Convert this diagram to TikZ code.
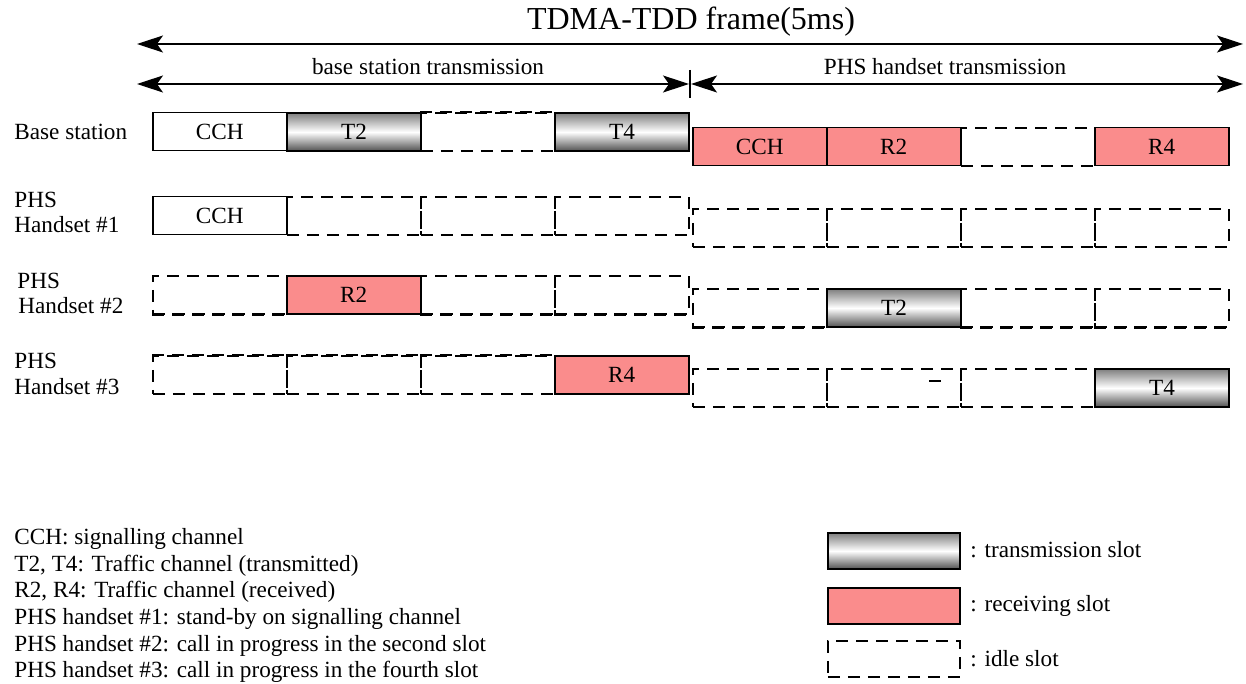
\documentclass[tikz,border=0pt]{standalone}
\usepackage{fontspec}
\setmainfont{Liberation Serif}
\newfontfamily\tms{Liberation Serif}
\usetikzlibrary{arrows.meta}
\definecolor{rxpink}{RGB}{250,140,140}
\begin{document}
\begin{tikzpicture}[x=0.5pt,y=-0.5pt,
  txt/.style={font=\tms\fontsize{11.6}{13}\selectfont},
  slot/.style={txt, minimum width=67pt, minimum height=19pt, inner sep=0pt, anchor=north west},
  solidslot/.style={slot, draw, line width=0.75pt},
  cchslot/.style={solidslot, fill=white},
  txslot/.style={solidslot, line width=1pt, top color=black!50, bottom color=black!68, middle color=white},
  rxslot/.style={solidslot, fill=rxpink},
  idleslot/.style={slot, draw, line width=0.85pt, dash pattern=on 6pt off 4pt},
  heavy/.style={line width=1.4pt, dash pattern=on 6pt off 4pt},
  lbl/.style={txt, anchor=base west, inner sep=0pt},
  span/.style={line width=0.6pt, {Stealth[length=13pt,width=8.5pt,inset=3pt]}-{Stealth[length=13pt,width=8.5pt,inset=3pt]}},
]
\useasboundingbox (0,0) rectangle (1246,684);

% frame arrows
\node[font=\tms\fontsize{16}{19}\selectfont] (title) at (691,22) {TDMA-TDD frame(5ms)};
\coordinate (fl) at (137,44);
\coordinate (fr) at (1243,44);
\draw[span] (fl) -- (fr);
\node[txt] (bst) at (428,67) {base station transmission};
\node[txt] (pht) at (945,67) {PHS handset transmission};
\coordinate (bl) at (137,84);
\coordinate (bm1) at (689,84);
\coordinate (bm2) at (691,84);
\coordinate (br) at (1243,84);
\draw[span] (bl) -- (bm1);
\draw[span] (bm2) -- (br);
\coordinate (tt) at (690,70);
\coordinate (tb) at (690,98);
\draw[line width=0.6pt] (tt) -- (tb);

% row labels
\node[lbl] (lb0) at (14,140) {Base station};
\node[lbl] (lb1a) at (14,208) {PHS};
\node[lbl] (lb1b) at (14,233) {Handset \#1};
\node[lbl] (lb2a) at (17,288) {PHS};
\node[lbl] (lb2b) at (18,313) {Handset \#2};
\node[lbl] (lb3a) at (14,368) {PHS};
\node[lbl] (lb3b) at (14,394) {Handset \#3};

% base station
\node[cchslot] (b1) at (152,112) {CCH};
\node[txslot] (b2) at (286,112) {T2};
\node[idleslot] (b3) at (420,112) {};
\node[txslot] (b4) at (554,112) {T4};
\node[rxslot] (b5) at (692,127) {CCH};
\node[rxslot] (b6) at (826,127) {R2};
\node[idleslot] (b7) at (960,127) {};
\node[rxslot] (b8) at (1094,127) {R4};
\draw[heavy] (b3.north west) -- (b3.north east);

% handset 1
\node[cchslot] (h1a) at (152,196) {CCH};
\node[idleslot] (h1b) at (286,196) {};
\node[idleslot] (h1c) at (420,196) {};
\node[idleslot] (h1d) at (554,196) {};
\node[idleslot] (h1e) at (692,208) {};
\node[idleslot] (h1f) at (826,208) {};
\node[idleslot] (h1g) at (960,208) {};
\node[idleslot] (h1h) at (1094,208) {};

% handset 2
\node[idleslot] (h2a) at (152,275) {};
\node[rxslot] (h2b) at (286,275) {R2};
\node[idleslot] (h2c) at (420,275) {};
\node[idleslot] (h2d) at (554,275) {};
\node[idleslot] (h2e) at (692,288) {};
\node[txslot] (h2f) at (826,288) {T2};
\node[idleslot] (h2g) at (960,288) {};
\node[idleslot] (h2h) at (1094,288) {};
\draw[heavy] (h2a.south west) -- (h2a.south east);
\draw[heavy] (h2c.south west) -- (h2c.south east);
\draw[heavy] (h2d.south west) -- (h2d.south east);
\draw[heavy] (h2e.south west) -- (h2e.south east);
\draw[heavy] (h2g.south west) -- (h2g.south east);
\draw[heavy] (h2h.south west) -- (h2h.south east);

% handset 3
\node[idleslot] (h3a) at (152,355) {};
\node[idleslot] (h3b) at (286,355) {};
\node[idleslot] (h3c) at (420,355) {};
\node[rxslot] (h3d) at (554,355) {R4};
\node[idleslot] (h3e) at (692,368) {};
\node[idleslot] (h3f) at (826,368) {};
\node[idleslot] (h3g) at (960,368) {};
\node[txslot] (h3h) at (1094,368) {T4};
\draw[heavy] (h3a.north west) -- (h3a.north east);
\draw[heavy] (h3b.north west) -- (h3b.north east);
\draw[heavy] (h3c.north west) -- (h3c.north east);
\coordinate (sd1) at (929,381);
\coordinate (sd2) at (941,381);
\draw[line width=0.8pt] (sd1) -- (sd2);

% legend (left)
\node[lbl] (t1) at (14,544) {CCH: signalling channel};
\node[lbl] (t2) at (14,571) {T2, T4: Traffic channel (transmitted)};
\node[lbl] (t3) at (14,597) {R2, R4: Traffic channel (received)};
\node[lbl] (t4) at (14,624) {PHS handset \#1: stand-by on signalling channel};
\node[lbl] (t5) at (14,651) {PHS handset \#2: call in progress in the second slot};
\node[lbl] (t6) at (14,677) {PHS handset \#3: call in progress in the fourth slot};

% legend (right)
\node[txslot, minimum width=66pt, minimum height=18pt] (lg1) at (827,532) {};
\node[rxslot, minimum width=66pt, minimum height=18pt] (lg2) at (827,587) {};
\node[idleslot, minimum width=66pt, minimum height=18pt] (lg3) at (827,640) {};
\node[lbl] (lt1) at (970,557) {: transmission slot};
\node[lbl] (lt2) at (970,611) {: receiving slot};
\node[lbl] (lt3) at (970,666) {: idle slot};
\end{tikzpicture}
\end{document}
